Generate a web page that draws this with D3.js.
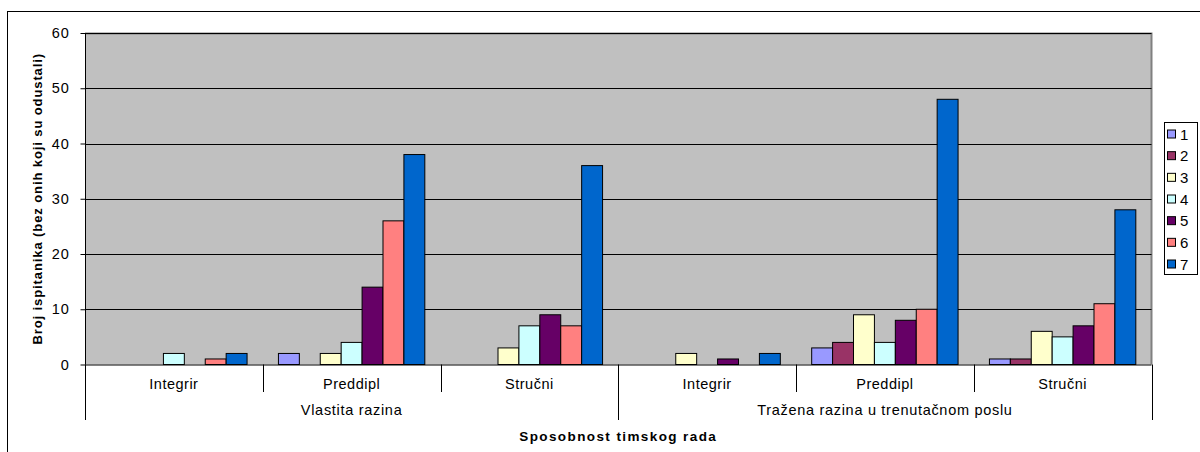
<!DOCTYPE html>
<html><head><meta charset="utf-8">
<script src="https://cdn.jsdelivr.net/npm/d3@7"></script>
<style>body{margin:0;background:#fff}svg{display:block;font-family:Arial,"Liberation Sans",sans-serif}</style>
</head><body><svg id="c" width="1200" height="452"></svg>
<script>
const groups = ["Vlastita razina", "Tražena razina u trenutačnom poslu"];
const subcats = ["Integrir", "Preddipl", "Stručni"];
const seriesNames = ["1","2","3","4","5","6","7"];
const colors = ["#9999FF","#993366","#FFFFCC","#CCFFFF","#660066","#FF8080","#0066CC"];
// values per category (6 categories), per series
const s1 = [0, 2, 0, 0, 3, 1];
const s2 = [0, 0, 0, 0, 4, 1];
const s3 = [0, 2, 3, 2, 9, 6];
const s4 = [2, 4, 7, 0, 4, 5];
const s5 = [0, 14, 9, 1, 8, 7];
const s6 = [1, 26, 7, 0, 10, 11];
const s7 = [2, 38, 36, 2, 48, 28];
const series = [s1,s2,s3,s4,s5,s6,s7];
const yTicks = [0,10,20,30,40,50,60];
const xTitle = "Sposobnost timskog rada";
const yTitle = "Broj ispitanika (bez onih koji su odustali)";

const svg = d3.select("#c");
const L = 85, R = 1151.5, T = 33, B = 364.5;
const cats = [];
groups.forEach((g,gi)=>subcats.forEach((s,si)=>cats.push(gi+"|"+si)));

svg.append("rect").attr("x",7.5).attr("y",11.5).attr("width",1300).attr("height",600)
  .attr("fill","#fff").attr("stroke","#000").attr("stroke-width",1);

const x = d3.scaleBand().domain(cats).range([L,R]).paddingInner(0).paddingOuter(0);
const y = d3.scaleLinear().domain([0,60]).range([B,T]);
const cw = x.bandwidth();
const barW = cw/8.5;
const xs = d3.scaleBand().domain(seriesNames).range([barW*0.75, cw-barW*0.75]).padding(0);

svg.append("rect").attr("x",L).attr("y",T).attr("width",R-L).attr("height",B-T).attr("fill","#C0C0C0");
svg.append("path").attr("d",`M${L},${T+0.5}H${R}V${B}`).attr("fill","none").attr("stroke","#808080").attr("stroke-width",2);

// grid
svg.append("g").selectAll("line").data(yTicks.filter(d=>d>0)).join("line")
  .attr("x1",L).attr("x2",R).attr("y1",d=>Math.round(y(d))+0.5).attr("y2",d=>Math.round(y(d))+0.5)
  .attr("stroke","#000").attr("stroke-width",1);

// bars
series.forEach((vals,si)=>{
  svg.append("g").selectAll("rect").data(vals.map((v,ci)=>({v,ci}))).join("rect")
    .filter(d=>d.v>0)
    .attr("x",d=>x(cats[d.ci])+xs(seriesNames[si]))
    .attr("width",xs.bandwidth())
    .attr("y",d=>y(d.v))
    .attr("height",d=>B-y(d.v))
    .attr("fill",colors[si]).attr("stroke","#000").attr("stroke-width",1);
});

// y axis
const ya = svg.append("g").attr("transform",`translate(${L+0.5},0)`)
  .call(d3.axisLeft(y).tickValues(yTicks).tickSize(5).tickPadding(11));
ya.select(".domain").attr("stroke","#000").attr("d",`M-0,${T}V${B}`);
ya.selectAll("text").attr("font-size","14.5px").attr("letter-spacing","0.8px").attr("fill","#000").attr("font-family","Arial, Liberation Sans, sans-serif");
ya.selectAll(".tick line").attr("stroke","#000");

// x axis baseline
svg.append("line").attr("x1",L).attr("x2",R).attr("y1",B+0.5).attr("y2",B+0.5).attr("stroke","#000");
// separators
const bounds = cats.map(c=>x(c)).concat([R]);
bounds.forEach((bx,i)=>{
  const outer = (i===0 || i===3 || i===6);
  svg.append("line").attr("x1",Math.round(bx)+0.5).attr("x2",Math.round(bx)+0.5)
    .attr("y1",B).attr("y2",outer?420:392).attr("stroke","#000");
});
// sub labels
svg.append("g").selectAll("text").data(cats).join("text")
  .attr("x",d=>x(d)+cw/2).attr("y",389).attr("text-anchor","middle")
  .attr("font-size","14.5px").attr("letter-spacing","0.5px").text(d=>subcats[+d.split("|")[1]]);
svg.append("g").selectAll("text").data(groups).join("text")
  .attr("x",(d,i)=>x(cats[i*3])+cw*1.5).attr("y",415).attr("text-anchor","middle")
  .attr("font-size","14.5px").attr("letter-spacing","0.7px").text(d=>d);

svg.append("text").attr("x",(L+R)/2).attr("y",441).attr("text-anchor","middle")
  .attr("font-size","13.5px").attr("font-weight","bold").attr("letter-spacing","1.4px").text(xTitle);
svg.append("text").attr("transform",`translate(42,${(T+B)/2}) rotate(-90)`).attr("text-anchor","middle")
  .attr("font-size","13px").attr("font-weight","bold").attr("letter-spacing","0.9px").text(yTitle);

// legend
const lg = svg.append("g");
lg.append("rect").attr("x",1164.5).attr("y",122.5).attr("width",33).attr("height",152).attr("fill","#fff").attr("stroke","#000");
const ly = d3.scalePoint().domain(seriesNames).range([134,264]);
lg.selectAll("rect.k").data(seriesNames).join("rect").attr("class","k")
  .attr("x",1167.5).attr("y",d=>ly(d)-4).attr("width",8).attr("height",8)
  .attr("fill",(d,i)=>colors[i]).attr("stroke","#000");
lg.selectAll("text").data(seriesNames).join("text")
  .attr("x",1180).attr("y",d=>ly(d)+5.5).attr("font-size","15px").text(d=>d);
</script></body></html>
